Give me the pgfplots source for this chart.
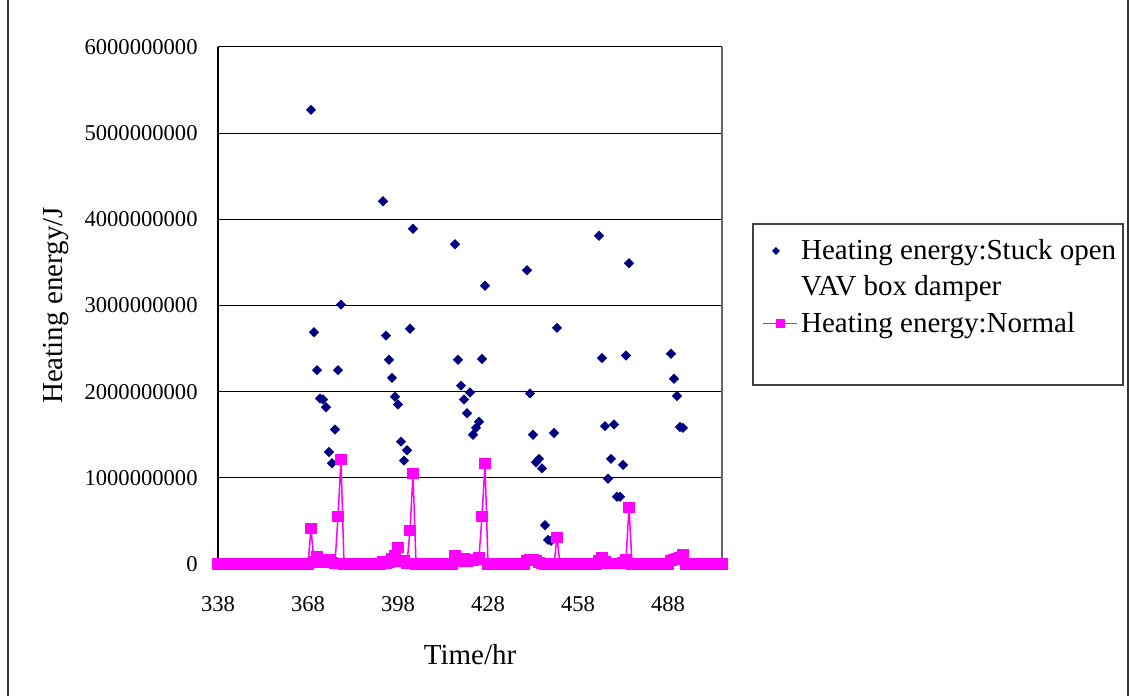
\documentclass[border=0pt]{standalone}
\usepackage{fontspec}
\setmainfont{Liberation Serif}
\usepackage{pgfplots}
\pgfplotsset{compat=1.18}
\definecolor{navyc}{RGB}{0,0,128}
\definecolor{magc}{RGB}{255,0,255}
\begin{document}
\begin{tikzpicture}
\path[use as bounding box] (0pt,0pt) rectangle (565.5pt,348pt);
\draw[black!80, line width=0.6pt] (4pt,0pt) -- (4pt,348pt);
\draw[black!80, line width=0.6pt] (564pt,0pt) -- (564pt,348pt);
\begin{axis}[
  at={(109pt,66pt)}, anchor=south west, scale only axis,
  width=252pt, height=258.5pt,
  xmin=338, xmax=506, ymin=0, ymax=6,
  clip=false,
  axis x line*=bottom, axis y line*=left,
  axis line style={black, line width=0.6pt},
  tick align=inside, major tick length=2.5pt,
  tick style={black, line width=0.5pt},
  xtick={338,368,398,428,458,488},
  xticklabels={338,368,398,428,458,488},
  ytick={0,1,2,3,4,5,6},
  yticklabels={0,1000000000,2000000000,3000000000,4000000000,5000000000,6000000000},
  ymajorgrids, grid style={black, line width=0.5pt},
  tick label style={font=\fontsize{11.3}{13}\selectfont},
  yticklabel style={anchor=east, inner sep=0pt, xshift=-10pt},
  xticklabel style={anchor=north, inner sep=0pt, yshift=-16pt},
  label style={font=\fontsize{14.5}{17}\selectfont},
  xlabel={Time/hr},
  xlabel style={at={(axis description cs:0.5,-0.176)}, anchor=center},
  ylabel={Heating energy/J},
  ylabel style={at={(axis description cs:-0.322,0.5)}, anchor=center},
  legend style={at={(rel axis cs:1.0794,0.6344)}, anchor=north west,
    draw=none, fill=none, inner sep=0pt,
    font=\fontsize{14.5}{18}\selectfont,
    nodes={inner sep=1.5pt}, row sep=3.8pt,
    cells={anchor=west, align=left}},
]
\addplot[only marks, color=navyc, mark=square*, mark size=1.6pt,
  mark options={rotate=45, fill=navyc, draw=navyc},
  legend image post style={yshift=9pt, scale=0.75}]
coordinates {
(369,5.27)(370,2.69)(371,2.25)(372,1.92)(373,1.91)(374,1.82)(375,1.30)(376,1.17)(377,1.56)(378,2.25)(379,3.01)
(393,4.21)(394,2.65)(395,2.37)(396,2.16)(397,1.94)(398,1.85)(399,1.42)(400,1.20)(401,1.32)(402,2.73)(403,3.89)
(417,3.71)(418,2.37)(419,2.07)(420,1.91)(421,1.75)(422,1.99)(423,1.50)(424,1.58)(425,1.65)(426,2.38)(427,3.23)
(441,3.41)(442,1.98)(443,1.50)(444,1.18)(445,1.22)(446,1.11)(447,0.45)(448,0.28)(449,0.27)(450,1.52)(451,2.74)
(465,3.81)(466,2.39)(467,1.60)(468,0.99)(469,1.22)(470,1.62)(471,0.78)(472,0.78)(473,1.15)(474,2.42)(475,3.49)
(489,2.44)(490,2.15)(491,1.95)(492,1.59)(493,1.58)
};
\addlegendentry{Heating energy:Stuck open\\VAV box damper}
\addplot[color=magc, line width=0.75pt, mark=square*, mark size=2.4pt,
  mark options={solid, fill=magc, draw=magc},
  legend image post style={mark size=1.8pt}]
coordinates {
(338,0)(339,0)(340,0)(341,0)(342,0)(343,0)(344,0)(345,0)(346,0)(347,0)
(348,0)(349,0)(350,0)(351,0)(352,0)(353,0)(354,0)(355,0)(356,0)(357,0)
(358,0)(359,0)(360,0)(361,0)(362,0)(363,0)(364,0)(365,0)(366,0)(367,0)
(368,0)(369,0.41)(370,0.03)(371,0.09)(372,0.02)(373,0.04)(374,0.05)(375,0.05)(376,0.02)(377,0.01)
(378,0.55)(379,1.21)(380,0)(381,0)(382,0)(383,0)(384,0)(385,0)(386,0)(387,0)
(388,0)(389,0)(390,0)(391,0)(392,0)(393,0.03)(394,0.01)(395,0.02)(396,0.06)(397,0.10)
(398,0.19)(399,0.03)(400,0.04)(401,0.01)(402,0.39)(403,1.05)(404,0)(405,0)(406,0)(407,0)
(408,0)(409,0)(410,0)(411,0)(412,0)(413,0)(414,0)(415,0)(416,0)(417,0.10)
(418,0.04)(419,0.03)(420,0.06)(421,0.03)(422,0.04)(423,0.04)(424,0.05)(425,0.08)(426,0.55)(427,1.17)
(428,0)(429,0)(430,0)(431,0)(432,0)(433,0)(434,0)(435,0)(436,0)(437,0)
(438,0)(439,0)(440,0)(441,0.04)(442,0.05)(443,0.05)(444,0.04)(445,0.02)(446,0.01)(447,0)
(448,0)(449,0)(450,0)(451,0.31)(452,0)(453,0)(454,0)(455,0)(456,0)(457,0)
(458,0)(459,0)(460,0)(461,0)(462,0)(463,0)(464,0)(465,0.04)(466,0.07)(467,0.03)
(468,0.01)(469,0.01)(470,0.01)(471,0.01)(472,0.01)(473,0.02)(474,0.05)(475,0.66)(476,0)(477,0)
(478,0)(479,0)(480,0)(481,0)(482,0)(483,0)(484,0)(485,0)(486,0)(487,0)
(488,0)(489,0.04)(490,0.05)(491,0.06)(492,0.08)(493,0.11)(494,0)(495,0)(496,0)(497,0)
(498,0)(499,0)(500,0)(501,0)(502,0)(503,0)(504,0)(505,0)(506,0)
};
\addlegendentry{Heating energy:Normal}
\draw[black!60, line width=0.6pt] (rel axis cs:1,0) -- (rel axis cs:1,1);
\draw[black!75, line width=0.6pt] (rel axis cs:1.0615,0.3462) rectangle (rel axis cs:1.7956,0.6576);
\end{axis}
\end{tikzpicture}
\end{document}
